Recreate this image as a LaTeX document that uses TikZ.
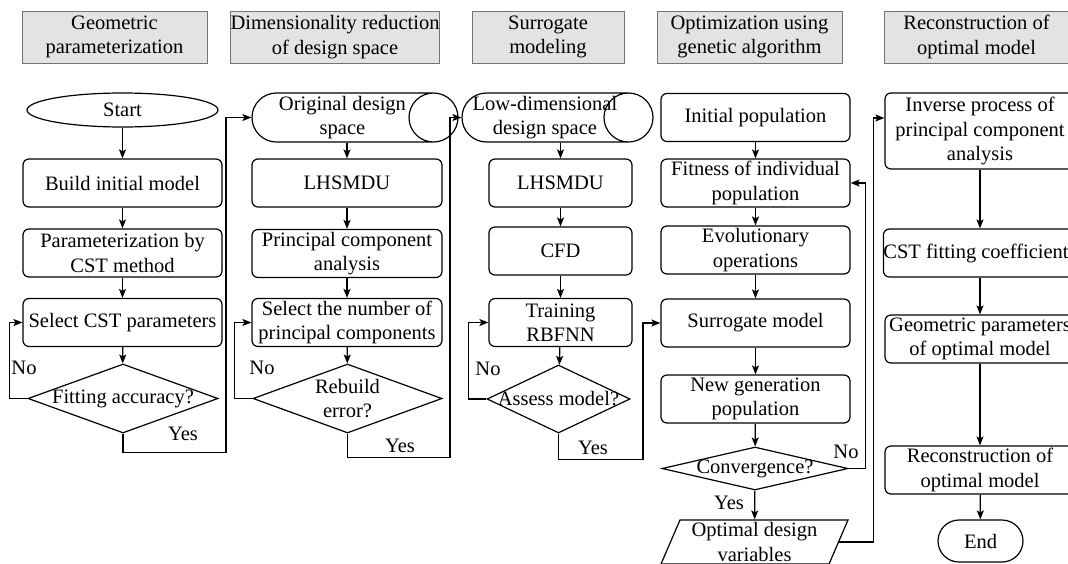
\documentclass[tikz,border=0pt]{standalone}
\usepackage{fontspec}
\setmainfont{Liberation Serif}
\usetikzlibrary{shapes.geometric, shapes.misc, arrows.meta}

\tikzset{
  header/.style={draw=black!55, line width=1pt, fill=black!11, minimum width=185pt, minimum height=52pt, inner sep=0pt, align=center},
  stepbox/.style={draw, rounded corners=6pt, minimum width=190pt, minimum height=48pt, inner sep=0pt, align=center},
  decision/.style={diamond, draw, inner sep=0pt, align=center},
  datacyl/.style={cylinder, draw, aspect=1, inner sep=0pt, minimum width=49pt, anchor=shape center},
  iobox/.style={trapezium, trapezium left angle=64, trapezium right angle=116, trapezium stretches body, draw, inner sep=0pt, align=center}
}
\newcommand{\cyltext}[1]{\makebox[0pt]{\begin{tabular}{@{}c@{}}#1\end{tabular}}}

\begin{document}
\begin{tikzpicture}[x=1pt, y=-1pt, line width=1.2pt, >={Stealth[length=9pt, width=7pt, inset=2pt]}, font=\fontsize{20.5}{24.5}\selectfont]
  \useasboundingbox (0,0) rectangle (1068,563);
  % stage titles
  \node[header] (geo) at (114.5,37) {Geometric\\parameterization};
  \node[header, minimum width=206pt] (dim) at (335,37) {Dimensionality reduction\\of design space};
  \node[header, minimum width=152pt] (sur) at (548,37) {Surrogate\\modeling};
  \node[header] (opt) at (749.5,37) {Optimization using\\genetic algorithm};
  \node[header] (rec) at (976.5,37) {Reconstruction of\\optimal model};

  % geometric parameterization
  \node[ellipse, draw, minimum width=191pt, minimum height=34pt, inner sep=0pt] (start) at (122.5,110) {Start};
  \node[stepbox, minimum width=199pt] (build) at (122.5,183) {Build initial model};
  \node[stepbox, minimum width=199pt] (param) at (122.5,253) {Parameterization by\\CST method};
  \node[stepbox, minimum width=199pt] (selcst) at (122.5,322.5) {Select CST parameters};
  \node[decision, minimum width=190pt, minimum height=69pt] (fit) at (123,398.5) {\makebox[0pt]{Fitting accuracy?}};
  \draw[->] (start) -- (build);
  \draw[->] (build) -- (param);
  \draw[->] (param) -- (selcst);
  \draw[->] (selcst) -- (fit);
  \draw[->] (fit.west) -- ++(-18,0) |- (selcst.west);
  \node (no1) at (24,368) {No};

  % dimensionality reduction
  \node[datacyl, minimum height=206pt] (orig) at (355,117.5) {\cyltext{Original design\\space}};
  \node[stepbox] (lhs1) at (347,183) {LHSMDU};
  \node[stepbox] (pca) at (347,253.5) {Principal component\\analysis};
  \node[stepbox] (selnum) at (347,322.5) {Select the number of\\principal components};
  \node[decision, aspect=2.74, minimum width=189pt, minimum height=69pt] (rebuild) at (347.5,398.5) {Rebuild\\error?};
  \draw[->] (fit.south) -- ++(0,19) -- ++(103,0) |- (orig.west);
  \node (yes1) at (183,434) {Yes};
  \draw[->] (orig.south -| lhs1) -- (lhs1);
  \draw[->] (lhs1) -- (pca);
  \draw[->] (pca) -- (selnum);
  \draw[->] (selnum) -- (rebuild);
  \draw[->] (rebuild.west) -- ++(-18,0) |- (selnum.west);
  \node (no2) at (262,368) {No};

  % surrogate modeling
  \node[datacyl, minimum height=191pt] (lowd) at (557.5,117.5) {\cyltext{Low-dimensional\\design space}};
  \node[stepbox, minimum width=143pt] (lhs2) at (560.5,183) {LHSMDU};
  \node[stepbox, minimum width=143pt] (cfd) at (560.5,251) {CFD};
  \node[stepbox, minimum width=143pt] (train) at (560.5,322.5) {Training\\RBFNN};
  \node[decision, minimum width=143pt, minimum height=68pt] (assess) at (558.5,399) {\makebox[0pt]{Assess model?}};
  \draw[->] (rebuild.south) -- ++(0,24) -- ++(102.5,0) |- (lowd.west);
  \node (yes2) at (400,446) {Yes};
  \draw[->] (lowd.south -| lhs2) -- (lhs2);
  \draw[->] (lhs2) -- (cfd);
  \draw[->] (cfd) -- (train);
  \draw[->] (train) -- (assess);
  \draw[->] (assess.west) -- ++(-18,0) |- (train.west);
  \node (no3) at (488,369) {No};

  % genetic algorithm
  \node[stepbox, minimum width=189pt] (initpop) at (755.5,117.5) {Initial population};
  \node[stepbox, minimum width=189pt] (fitpop) at (755.5,183) {Fitness of individual\\population};
  \node[stepbox, minimum width=189pt] (evol) at (755.5,250) {Evolutionary\\operations};
  \node[stepbox, minimum width=189pt] (surr) at (755.5,323) {Surrogate model};
  \node[stepbox, minimum width=189pt] (newgen) at (755.5,399) {New generation\\population};
  \node[decision, minimum width=186pt, minimum height=43pt] (conv) at (755,468.5) {\makebox[0pt]{Convergence?}};
  \node[iobox, minimum width=187pt, minimum height=44pt] (optvar) at (754.5,542) {Optimal design\\variables};
  \draw[->] (assess.south) -- ++(0,26) -- ++(84.5,0) |- (surr.west);
  \node (yes3) at (593,448) {Yes};
  \draw[->] (initpop) -- (fitpop);
  \draw[->] (fitpop) -- (evol);
  \draw[->] (evol) -- (surr);
  \draw[->] (surr) -- (newgen);
  \draw[->] (newgen) -- (conv);
  \draw[->] (conv) -- (optvar);
  \draw[->] (conv.east) -- ++(17,0) |- (fitpop.east);
  \node (no4) at (846,452) {No};
  \node (yes4) at (729,503) {Yes};

  % reconstruction
  \node[stepbox, minimum height=76pt] (inv) at (980,131) {Inverse process of\\principal component\\analysis};
  \node[stepbox] (cstc) at (980,253) {CST fitting coefficients};
  \node[stepbox] (geop) at (980,339) {Geometric parameters\\of optimal model};
  \node[stepbox] (recm) at (980,470) {Reconstruction of\\optimal model};
  \node[rounded rectangle, draw, minimum width=85pt, minimum height=42pt, inner sep=0pt] (end) at (980.5,541) {End};
  \draw[->] (optvar.east) -- ++(34.5,0) |- ([yshift=13pt]inv.west);
  \draw[->] (inv) -- (cstc);
  \draw[->] (cstc) -- (geop);
  \draw[->] (geop) -- (recm);
  \draw[->] (recm) -- (end);
\end{tikzpicture}
\end{document}
